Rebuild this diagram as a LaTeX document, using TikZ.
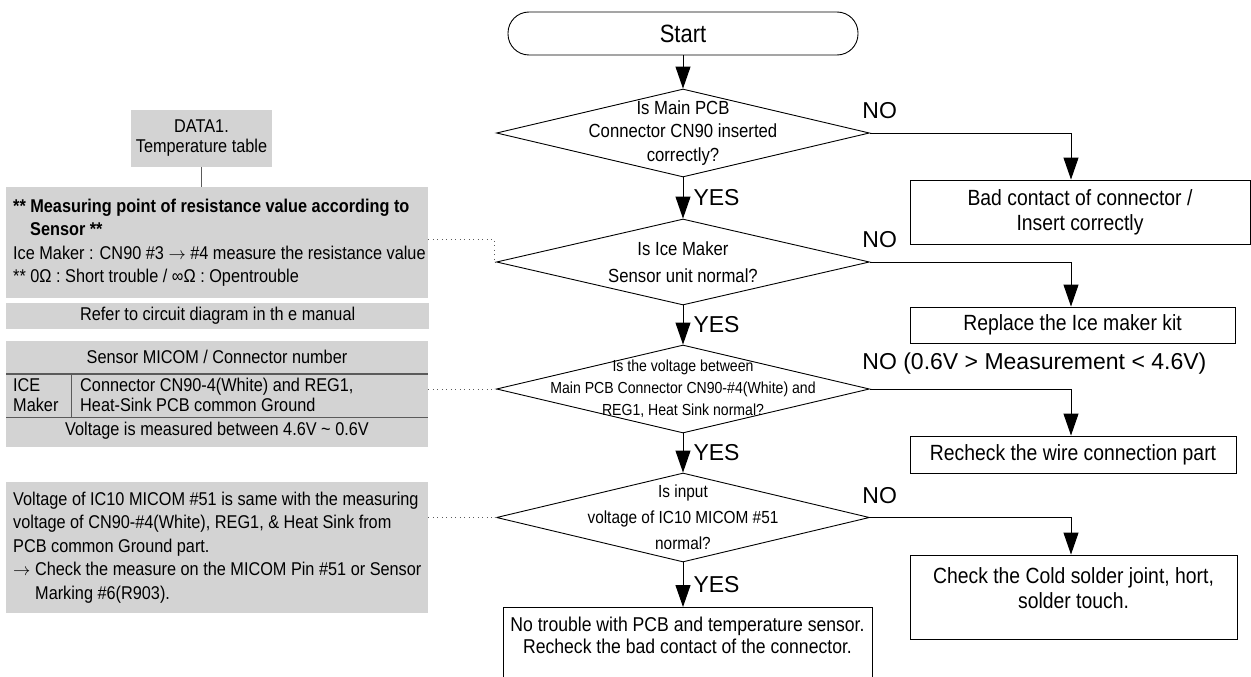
\documentclass[tikz,border=0pt]{standalone}
\usepackage{fontspec}
\setmainfont{Liberation Sans}
\newfontfamily\narrowfont[FakeStretch=0.88]{Liberation Sans}
\usetikzlibrary{shapes.geometric,arrows.meta}

\definecolor{panelgray}{HTML}{D3D3D3}
\definecolor{rulegray}{HTML}{5A5A5A}

\tikzset{
  flow/.style={line width=1pt, -{Triangle[length=22pt,width=15pt]}},
  terminal/.style={rectangle, draw, line width=0.9pt, rounded corners=21pt,
    font=\narrowfont\fontsize{25}{27}\selectfont},
  decision/.style={diamond, draw, line width=0.9pt, minimum width=373pt,
    minimum height=88pt, inner sep=0pt},
  qtext/.style={align=center, inner sep=0pt},
  actbox/.style={rectangle, draw, line width=0.9pt, inner sep=0pt, align=center,
    font=\narrowfont\fontsize{22}{25}\selectfont},
  yeslab/.style={anchor=west, inner sep=0pt, xshift=10pt,
    font=\fontsize{23}{25}\selectfont},
  nolab/.style={anchor=west, inner sep=0pt, xshift=-8pt, yshift=22pt,
    font=\fontsize{23}{25}\selectfont},
  panel/.style={rectangle, fill=panelgray, inner sep=0pt,
    font=\narrowfont\fontsize{18.5}{23.5}\selectfont},
  notetext/.style={anchor=west, inner sep=0pt, align=left,
    font=\narrowfont\fontsize{18.5}{23.5}\selectfont},
  dotline/.style={line width=0.8pt, rulegray, dash pattern=on 1pt off 3.5pt},
}

\begin{document}
\begin{tikzpicture}[x=1pt,y=-1pt]
  \useasboundingbox (0,0) rectangle (1251,677);

  % main flow
  \node[terminal, minimum width=350pt, minimum height=43pt] (start) at (683,33.5) {Start};

  \node[decision] (d1) at (683,133) {};
  \node[qtext, font=\narrowfont\fontsize{19}{23.5}\selectfont] (d1t) at (d1)
    {Is Main PCB\\Connector CN90 inserted\\correctly?};

  \node[decision, minimum height=86pt] (d2) at (683,262) {};
  \node[qtext, font=\narrowfont\fontsize{19}{27}\selectfont] (d2t) at (d2)
    {Is Ice Maker\\Sensor unit normal?};

  \node[decision] (d3) at (683,389) {};
  \node[qtext, font=\narrowfont\fontsize{16}{22}\selectfont] (d3t) at (d3)
    {Is the voltage between\\Main PCB Connector CN90-\#4(White) and\\REG1, Heat Sink normal?};

  \node[decision, minimum height=89pt] (d4) at (683,517.5) {};
  \node[qtext, font=\narrowfont\fontsize{17.5}{26}\selectfont] (d4t) at (d4)
    {Is input\\voltage of IC10 MICOM \#51\\normal?};

  \node[actbox, anchor=north, minimum width=369pt, inner ysep=10pt, text depth=45pt,
    font=\narrowfont\fontsize{20}{22}\selectfont] (fin) at (687.5,607)
    {No trouble with PCB and temperature sensor.\\Recheck the bad contact of the connector.};

  % NO branches
  \node[actbox, minimum width=340pt, minimum height=64pt] (b1) at (1080,212)
    {Bad contact of connector /\\Insert correctly};
  \node[actbox, minimum width=325pt, minimum height=36pt] (b2) at (1072.5,325)
    {Replace the Ice maker kit};
  \node[actbox, minimum width=326pt, minimum height=37pt] (b3) at (1073,454.5)
    {Recheck the wire connection part};
  \node[actbox, minimum width=327pt, minimum height=84pt, text depth=18pt] (b4) at (1073.5,597)
    {Check the Cold solder joint, hort,\\solder touch.};

  \coordinate (nocol) at (1071,0);

  \draw[flow] (start) -- (d1);
  \draw[flow] (d1) -- node[yeslab] (y1) {YES} (d2);
  \draw[flow] (d2) -- node[yeslab] (y2) {YES} (d3);
  \draw[flow] (d3) -- node[yeslab] (y3) {YES} (d4);
  \draw[flow] (d4) -- node[yeslab] (y4) {YES} (d4 |- fin.north);

  \draw[flow] (d1.east) node[nolab] (n1) {NO} -| (nocol |- b1.north);
  \draw[flow] (d2.east) node[nolab] (n2) {NO} -| (nocol |- b2.north);
  \draw[flow] (d3.east) node[nolab, yshift=3pt] (n3) {NO (0.6V > Measurement < 4.6V)} -| (nocol |- b3.north);
  \draw[flow] (d4.east) node[nolab] (n4) {NO} -| (nocol |- b4.north);

  % left notes
  \node[panel, minimum width=141pt, minimum height=57pt, align=center,
    font=\narrowfont\fontsize{18.5}{20}\selectfont] (data1) at (201.5,138.5)
    {DATA1.\\Temperature table};

  \node[panel, anchor=north west, minimum width=422pt, minimum height=111pt] (meas) at (6,187) {};
  \node[notetext] (meastxt) at ([xshift=7pt]meas.west)
    {\textbf{** Measuring point of resistance value according to}\\
     \hspace*{17pt}\textbf{Sensor **}\\
     Ice Maker : CN90 \#3 ${\rightarrow}$ \#4 measure the resistance value\\{}%
     ** 0Ω : Short trouble / ∞Ω : Opentrouble};
  \draw[rulegray, line width=1pt] (data1.south) -- (data1.south |- meas.north);

  \node[panel, anchor=north west, minimum width=423pt, minimum height=26pt] (refer) at (6,303)
    {Refer to circuit diagram in th e manual};

  \node[panel, anchor=north west, minimum width=422pt, minimum height=106pt] (tab) at (6,341) {};
  \node[panel, fill=none] (tabhead) at (217,357) {Sensor MICOM / Connector number};
  \draw[rulegray, line width=1.8pt] ([yshift=-33pt]tab.north west) -- ([yshift=-33pt]tab.north east);
  \draw[rulegray, line width=1pt] ([yshift=-76pt]tab.north west) -- ([yshift=-76pt]tab.north east);
  \draw[rulegray, line width=1pt] ([xshift=65pt,yshift=-33pt]tab.north west) -- ([xshift=65pt,yshift=-76pt]tab.north west);
  \node[notetext, font=\narrowfont\fontsize{18.5}{20}\selectfont] (icecell) at (13,395) {ICE\\Maker};
  \node[notetext, font=\narrowfont\fontsize{18.5}{20}\selectfont] (cncell) at (80,395)
    {Connector CN90-4(White) and REG1,\\Heat-Sink PCB common Ground};
  \node[panel, fill=none] (voltrow) at (217,431)
    {Voltage is measured between 4.6V \textasciitilde{} 0.6V};

  \node[panel, anchor=north west, minimum width=422pt, minimum height=131pt] (micom) at (6,482) {};
  \node[notetext] (micomtxt) at ([xshift=7pt]micom.west)
    {Voltage of IC10 MICOM \#51 is same with the measuring\\
     voltage of CN90-\#4(White), REG1, \& Heat Sink from\\
     PCB common Ground part.\\
     ${\rightarrow}$ Check the measure on the MICOM Pin \#51 or Sensor\\
     \hspace*{22pt}Marking \#6(R903).};

  % dotted leaders to the decisions
  \coordinate (dk) at (494,239);
  \draw[dotline] (meas.east |- dk) -- (dk) |- (d2.west);
  \draw[dotline] (tab.east |- d3.west) -- (d3.west);
  \draw[dotline] (micom.east |- d4.west) -- (d4.west);

\end{tikzpicture}
\end{document}
